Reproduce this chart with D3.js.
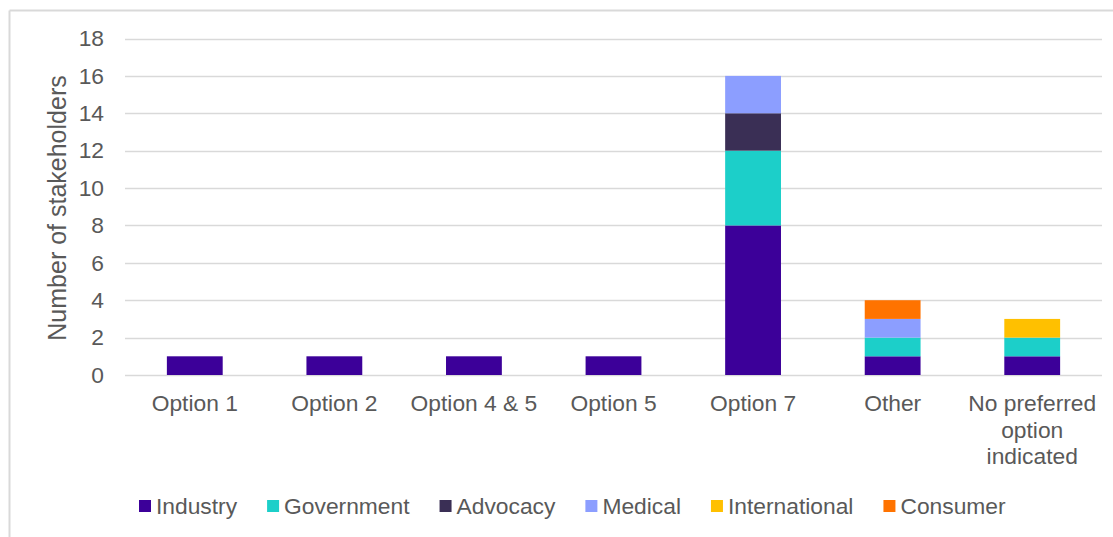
<!DOCTYPE html>
<html>
<head>
<meta charset="utf-8">
<script src="https://cdn.jsdelivr.net/npm/d3@7"></script>
<style>
  html, body { margin: 0; padding: 0; background: #fff; }
  svg { display: block; font-family: "Liberation Sans", Arial, sans-serif; }
</style>
</head>
<body>
<svg id="chart" width="1113" height="537"></svg>
<script>
// Preferred option by stakeholder type
const categories = ["Option 1", "Option 2", "Option 4 & 5", "Option 5", "Option 7", "Other", "No preferred option indicated"];
const seriesNames = ["Industry", "Government", "Advocacy", "Medical", "International", "Consumer"];
const industry      = [1, 1, 1, 1, 8, 1, 1];
const government    = [0, 0, 0, 0, 4, 1, 1];
const advocacy      = [0, 0, 0, 0, 2, 0, 0];
const medical       = [0, 0, 0, 0, 2, 1, 0];
const international = [0, 0, 0, 0, 0, 0, 1];
const consumer      = [0, 0, 0, 0, 0, 1, 0];
const yTicks = [0, 2, 4, 6, 8, 10, 12, 14, 16, 18];
const colors = ["#3c0099", "#1ccfc9", "#3a2f55", "#8c9eff", "#ffc000", "#ff7300"];

const seriesValues = [industry, government, advocacy, medical, international, consumer];
const rows = categories.map((c, i) => {
  const r = { category: c };
  seriesNames.forEach((s, k) => { r[s] = seriesValues[k][i]; });
  return r;
});

const svg = d3.select("#chart");
const textColor = "#595959";
const gridColor = "#d9d9d9";
const fontSize = 22.8;
const fontFamily = "Liberation Sans, Arial, sans-serif";

// Chart area frame (top and left edges visible)
svg.append("line").attr("x1", 9.5).attr("x2", 1113).attr("y1", 10.5).attr("y2", 10.5)
  .attr("stroke", gridColor).attr("stroke-width", 2);
svg.append("line").attr("x1", 9.5).attr("x2", 9.5).attr("y1", 10.5).attr("y2", 537)
  .attr("stroke", gridColor).attr("stroke-width", 2);

const plot = { left: 125, right: 1102, top: 38.5, bottom: 375 };

const x = d3.scaleBand().domain(categories).range([plot.left, plot.right]).paddingInner(0.6).paddingOuter(0.3);
const y = d3.scaleLinear().domain([0, 18]).range([plot.bottom, plot.top]);

// Gridlines
svg.append("g").selectAll("line").data(yTicks).join("line")
  .attr("x1", plot.left).attr("x2", plot.right)
  .attr("y1", d => Math.round(y(d)) + 0.5).attr("y2", d => Math.round(y(d)) + 0.5)
  .attr("stroke", gridColor).attr("stroke-width", 1.5);

// Y axis labels
const yAxis = d3.axisLeft(y).tickValues(yTicks).tickSize(0).tickPadding(21);
svg.append("g").attr("transform", `translate(${plot.left},0)`).call(yAxis)
  .call(g => g.select(".domain").remove())
  .call(g => g.selectAll("text").attr("fill", textColor).attr("font-size", fontSize)
    .attr("font-family", fontFamily));

// Stacked bars
const stack = d3.stack().keys(seriesNames);
const stacked = stack(rows);
svg.append("g").selectAll("g").data(stacked).join("g")
  .attr("fill", (d, i) => colors[i])
  .selectAll("rect").data(d => d.filter(p => p[1] > p[0])).join("rect")
  .attr("x", d => x(d.data.category))
  .attr("width", x.bandwidth())
  .attr("y", d => y(d[1]))
  .attr("height", d => y(d[0]) - y(d[1]));

// Category labels (wrapped to the band width)
const xAxis = d3.axisBottom(x).tickSize(0).tickPadding(0);
const xg = svg.append("g").attr("transform", `translate(0,${plot.bottom})`).call(xAxis);
xg.select(".domain").remove();
xg.selectAll("text").each(function(d) {
  const t = d3.select(this);
  t.text(null).attr("fill", textColor).attr("font-size", fontSize)
    .attr("font-family", fontFamily).attr("dy", null).attr("y", 0);
  const lines = d === "No preferred option indicated" ? ["No preferred", "option", "indicated"] : [d];
  lines.forEach((ln, i) => {
    t.append("tspan").attr("x", 0).attr("y", 36 + i * 26.5).text(ln);
  });
});

// Y axis title
svg.append("text")
  .attr("transform", `translate(66,208) rotate(-90)`)
  .attr("text-anchor", "middle")
  .attr("fill", textColor).attr("font-size", 25)
  .text("Number  of stakeholders");

// Legend
const legend = svg.append("g").attr("transform", "translate(139,514)");
let lx = 0;
seriesNames.forEach((name, i) => {
  const g = legend.append("g").attr("transform", `translate(${lx},0)`);
  g.append("rect").attr("x", 0).attr("y", -14).attr("width", 12).attr("height", 12).attr("fill", colors[i]);
  const t = g.append("text").attr("x", 17).attr("y", 0).attr("fill", textColor)
    .attr("font-size", fontSize).text(name);
  lx += 17 + t.node().getComputedTextLength() + 30;
});
</script>
</body>
</html>
